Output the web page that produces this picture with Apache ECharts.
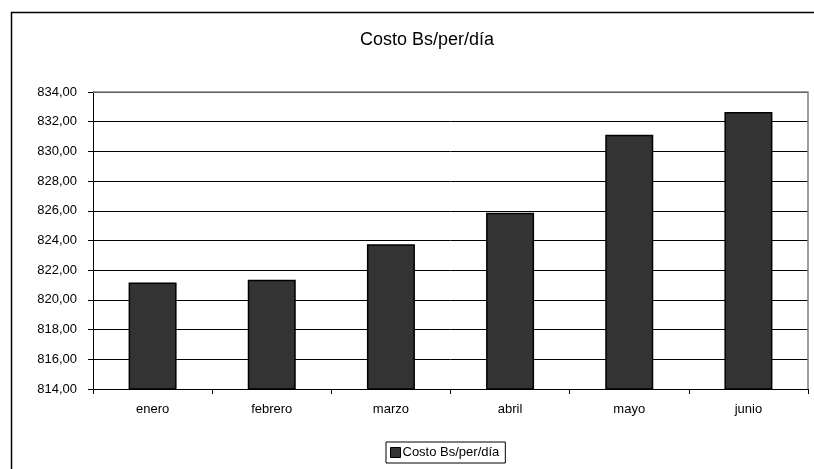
<!DOCTYPE html>
<html>
<head>
<meta charset="utf-8">
<script src="https://cdn.jsdelivr.net/npm/echarts@6/dist/echarts.min.js"></script>
<style>
html,body{margin:0;padding:0;background:#fff;}
#c{width:814px;height:469px;}
</style>
</head>
<body>
<div id="c"></div>
<script>
var titleText = 'Costo Bs/per/día';
var seriesName = 'Costo Bs/per/día';
var categories = ['enero', 'febrero', 'marzo', 'abril', 'mayo', 'junio'];
var values = [821.18, 821.36, 823.74, 825.87, 831.12, 832.65];
var yMin = 814, yMax = 834, yStep = 2;

var chart = echarts.init(document.getElementById('c'), null, {renderer: 'canvas'});
var font = 'Liberation Sans, Arial, sans-serif';
chart.setOption({
  animation: false,
  backgroundColor: '#fff',
  graphic: [{
    type: 'rect', left: 9, top: 10, silent: true,
    shape: {width: 900, height: 600},
    style: {fill: 'none', stroke: '#000', lineWidth: 1.5}
  }, {
    type: 'polyline', silent: true, z: 100,
    shape: {points: [[93, 92], [808, 92], [808, 389]]},
    style: {fill: 'none', stroke: '#808080', lineWidth: 1.5}
  }],
  title: {
    text: titleText, left: 422, top: 26, textAlign: 'center',
    textStyle: {fontFamily: font, fontSize: 18, fontWeight: 'normal', color: '#000'}
  },
  legend: {
    data: [seriesName], top: 442, left: 386,
    icon: 'rect',
    itemWidth: 10, itemHeight: 10, itemGap: 4,
    borderColor: '#000', borderWidth: 1, padding: [4, 6, 4, 4],
    textStyle: {fontFamily: font, fontSize: 13, color: '#000', padding: [0, 0, 0, -3]},
    itemStyle: {borderColor: '#000', borderWidth: 1}
  },
  grid: {left: 93, right: 6, top: 92, bottom: 80, containLabel: false},
  xAxis: {
    type: 'category', data: categories,
    axisLine: {lineStyle: {color: '#000', width: 1}},
    axisTick: {show: true, length: 5, lineStyle: {color: '#000'}},
    axisLabel: {fontFamily: font, fontSize: 13, color: '#000', margin: 14},
    splitLine: {show: false}
  },
  yAxis: {
    type: 'value', min: yMin, max: yMax, interval: yStep,
    axisLine: {show: true, lineStyle: {color: '#000', width: 1}},
    axisTick: {show: true, length: 5, lineStyle: {color: '#000'}},
    axisLabel: {
      fontFamily: font, fontSize: 13, color: '#000', margin: 16,
      formatter: function (v) { return v.toFixed(2).replace('.', ','); }
    },
    splitLine: {show: true, lineStyle: {color: '#000', width: 1}}
  },
  series: [{
    name: seriesName, type: 'bar', data: values,
    barWidth: 48,
    itemStyle: {color: '#333333', borderColor: '#000', borderWidth: 1.5}
  }]
});
</script>
</body>
</html>
